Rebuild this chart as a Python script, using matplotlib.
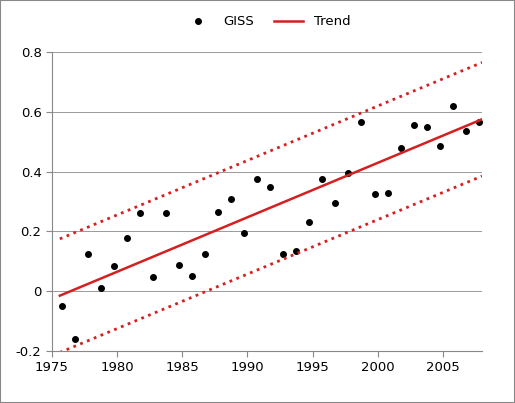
import numpy as np
import matplotlib.pyplot as plt

years = np.arange(1976, 2009)
giss = [-0.05, -0.16, 0.124, 0.01, 0.084, 0.177, 0.26, 0.047, 0.26, 0.087, 0.05, 0.124,
        0.264, 0.308, 0.194, 0.375, 0.348, 0.124, 0.134, 0.231, 0.375, 0.294, 0.395,
        0.565, 0.324, 0.328, 0.478, 0.555, 0.548, 0.485, 0.619, 0.535, 0.565]
trend_x = [1975.6, 2008]
trend_y = [-0.015, 0.575]
band = 0.19

fig = plt.figure(figsize=(5.15, 4.03), dpi=100)
fig.patches.append(plt.Rectangle((0, 0), 1, 1, transform=fig.transFigure, fill=False,
                                 edgecolor='#888888', lw=1.5))
ax = fig.add_axes([52/515, 1-351/403, 430/515, 299/403])
x = years - 0.25
ax.plot(x, giss, 'o', color='black', ms=4, label='GISS')
ax.plot(trend_x, trend_y, '-', color='#d42020', lw=1.8, label='Trend')
ax.plot(trend_x, np.array(trend_y) + band, ':', color='#d42020', lw=2)
ax.plot(trend_x, np.array(trend_y) - band, ':', color='#d42020', lw=2)
ax.set_xlim(1975, 2008)
ax.set_ylim(-0.2, 0.8)
ax.set_xticks([1975, 1980, 1985, 1990, 1995, 2000, 2005])
ax.set_yticks([-0.2, 0, 0.2, 0.4, 0.6, 0.8])
ax.set_yticklabels(['-0.2', '0', '0.2', '0.4', '0.6', '0.8'])
ax.grid(axis='y', color='#999999', lw=0.7)
ax.set_axisbelow(True)
for s in ['top', 'right']:
    ax.spines[s].set_visible(False)
for s in ['left', 'bottom']:
    ax.spines[s].set_color('#888888')
ax.tick_params(labelsize=9.5, color='#888888', direction='out', length=4)
ax.legend(loc='lower center', bbox_to_anchor=(0.5, 1.04), ncol=2, frameon=False,
          fontsize=9.5, handlelength=2.2, columnspacing=1.5)
fig.savefig('out.png', dpi=100)
